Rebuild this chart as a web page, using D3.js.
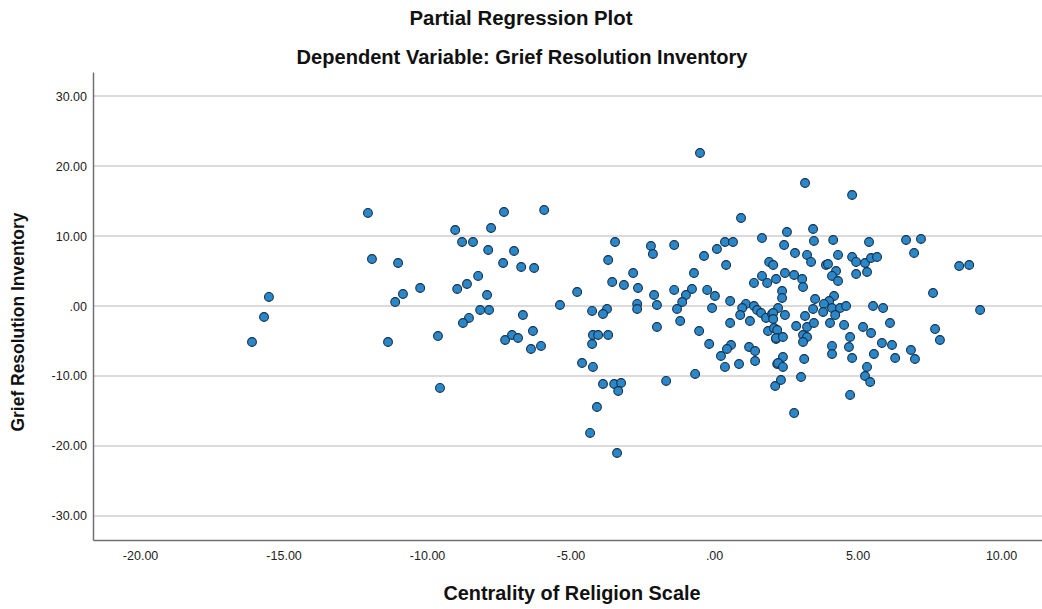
<!doctype html>
<html>
<head>
<meta charset="utf-8">
<title>Partial Regression Plot</title>
<script src="https://d3js.org/d3.v7.min.js"></script>
<style>
  body { margin: 0; background: #fff; }
  text { font-family: "Liberation Sans", Arial, sans-serif; }
</style>
</head>
<body>
<svg id="chart" width="1042" height="609"></svg>
<script>
// chart text
const title = "Partial Regression Plot";
const subtitle = "Dependent Variable: Grief Resolution Inventory";
const xLabel = "Centrality of Religion Scale";
const yLabel = "Grief Resolution Inventory";

// tick values
const xTicks = [-20, -15, -10, -5, 0, 5, 10];
const yTicks = [-30, -20, -10, 0, 10, 20, 30];

// residuals
const xs = [-16.10,-15.68,-15.51,-12.06,-11.92,-11.01,-10.24,-10.84,-11.11,-11.36,
  -7.32,-5.92,-9.02,-7.77,-8.78,-8.40,-7.87,-6.97,-7.35,-6.72,
  -6.27,-8.95,-8.61,-8.22,-7.91,-8.15,-7.84,-8.54,-8.75,-6.66,
  -6.31,-7.28,-7.04,-6.83,-6.38,-6.03,-5.37,-4.77,-9.62,-9.55,
  -3.45,-3.69,-3.55,-4.25,-3.73,-3.87,-4.22,-4.04,-3.69,-4.25,
  -4.60,-4.22,-3.87,-3.48,-3.24,-3.34,-4.08,-4.32,-3.38,-2.68,
  -2.68,-0.49,0.94,-2.20,-2.13,-1.39,0.10,0.38,0.66,1.67,
  -0.35,0.42,-2.82,-0.70,-3.14,-2.65,-1.39,-0.77,-0.98,-0.24,
  0.03,-2.09,-1.99,-1.11,-1.29,0.56,-0.07,1.11,0.98,0.91,
  1.39,1.50,1.64,1.81,2.02,1.25,0.56,-1.18,-1.99,-0.52,
  -0.17,0.59,0.45,0.24,0.38,0.87,1.22,1.43,1.43,1.88,
  2.09,2.16,2.20,-0.66,-1.67,2.13,1.92,1.39,1.67,1.85,
  2.54,3.45,3.48,4.15,5.40,2.44,2.82,3.24,3.38,4.32,
  3.90,3.97,4.81,4.95,5.26,5.47,5.68,4.25,4.11,4.32,
  4.95,5.33,2.06,2.47,2.16,2.79,3.07,3.10,2.37,2.37,
  3.52,4.18,4.01,3.83,4.11,4.39,4.60,5.54,5.89,3.45,
  3.80,2.23,2.06,2.47,2.06,3.17,4.22,6.13,2.86,3.24,
  3.48,4.04,4.53,5.19,5.47,2.20,2.16,2.40,3.10,3.24,
  3.10,4.74,4.70,4.81,4.11,4.11,5.85,6.20,5.57,6.31,
  2.40,2.23,2.40,3.14,3.03,5.33,5.26,5.44,2.33,4.74,
  2.79,3.17,4.81,6.69,7.21,6.97,8.54,8.89,7.63,9.27,
  7.70,7.87,6.86,7.00];
const ys = [-5.14,-1.57,1.29,13.29,6.71,6.14,2.57,1.71,0.57,-5.14,
  13.43,13.71,10.86,11.14,9.14,9.14,8.00,7.86,6.14,5.57,
  5.43,2.43,3.14,4.29,1.57,-0.57,-0.57,-1.71,-2.43,-1.29,
  -3.57,-4.86,-4.14,-4.57,-6.14,-5.71,0.14,2.00,-4.29,-11.71,
  9.14,6.57,3.43,-0.71,-0.43,-1.14,-4.14,-4.14,-4.14,-5.43,
  -8.14,-8.71,-11.14,-11.14,-11.00,-12.14,-14.43,-18.14,-21.00,0.29,
  -0.43,21.86,12.57,8.57,7.43,8.71,8.14,9.14,9.14,9.71,
  7.14,5.86,4.71,4.71,3.00,2.57,2.29,2.43,1.57,2.29,
  1.43,1.57,0.14,0.57,-0.43,0.71,-0.29,0.29,-0.29,-1.29,
  0.00,-0.57,-1.00,-1.71,-1.14,-2.14,-2.43,-2.14,-3.00,-3.57,
  -5.43,-5.57,-6.14,-7.14,-8.71,-8.29,-5.86,-6.43,-7.86,-3.57,
  -3.14,-4.71,-8.29,-9.71,-10.71,-11.43,6.29,3.29,4.29,3.29,
  10.57,11.00,9.29,9.43,9.14,8.71,7.57,7.29,6.29,7.29,
  5.86,6.00,7.00,6.29,6.14,6.86,7.00,5.00,4.29,3.57,
  4.57,4.86,5.86,4.71,3.86,4.43,3.86,2.71,2.14,1.14,
  1.00,1.43,0.71,0.29,-0.29,-0.29,0.00,0.00,-0.29,-0.43,
  -0.86,-0.29,-1.00,-1.29,-1.86,-1.43,-1.29,-2.43,-2.86,-3.00,
  -2.43,-2.43,-2.71,-3.00,-3.86,-3.43,-4.57,-4.43,-4.14,-4.43,
  -5.14,-4.43,-5.86,-7.43,-5.71,-6.86,-5.29,-5.57,-6.86,-7.43,
  -7.29,-8.14,-8.71,-7.57,-10.14,-8.71,-10.00,-10.86,-10.57,-12.71,
  -15.29,17.57,15.86,9.43,9.57,7.57,5.71,5.86,1.86,-0.57,
  -3.29,-4.86,-6.29,-7.57];

const svg = d3.select("#chart");
const margin = {top: 72, left: 93, bottom: 540, right: 1051};

const x = d3.scaleLinear()
  .domain([-21.64, 11.74])
  .range([margin.left, margin.right]);

const y = d3.scaleLinear()
  .domain([-33.43, 33.43])
  .range([margin.bottom, margin.top]);

const fmt = v => v === 0 ? ".00" : v.toFixed(2);

// horizontal grid lines
svg.append("g")
  .selectAll("line")
  .data(yTicks)
  .join("line")
    .attr("x1", margin.left)
    .attr("x2", margin.right)
    .attr("y1", d => y(d))
    .attr("y2", d => y(d))
    .attr("stroke", "#cfcfcf")
    .attr("stroke-width", 1.6);

// y axis
const yAxis = svg.append("g")
  .attr("transform", `translate(${margin.left},0)`)
  .call(d3.axisLeft(y).tickValues(yTicks).tickFormat(fmt).tickSize(0).tickPadding(6));
yAxis.select(".domain").attr("stroke", "#707070").attr("stroke-width", 1.5);
yAxis.selectAll("text").attr("font-size", "12.5px").attr("fill", "#222")
  .style("font-family", "'Liberation Sans', Arial, sans-serif");

// x axis
const xAxis = svg.append("g")
  .attr("transform", `translate(0,${margin.bottom})`)
  .call(d3.axisBottom(x).tickValues(xTicks).tickFormat(fmt).tickSize(0).tickPadding(11));
xAxis.select(".domain").attr("stroke", "#707070").attr("stroke-width", 1.5);
xAxis.selectAll("text").attr("font-size", "12.5px").attr("fill", "#222")
  .style("font-family", "'Liberation Sans', Arial, sans-serif");

// points
svg.append("g")
  .selectAll("circle")
  .data(xs.map((d, i) => [d, ys[i]]))
  .join("circle")
    .attr("cx", d => x(d[0]))
    .attr("cy", d => y(d[1]))
    .attr("r", 4.4)
    .attr("fill", "#2a87c8")
    .attr("stroke", "#17314c")
    .attr("stroke-width", 1.1);

// titles
svg.append("text")
  .attr("x", 521).attr("y", 25)
  .attr("text-anchor", "middle")
  .attr("font-size", "20px").attr("font-weight", "bold").attr("fill", "#111")
  .attr("textLength", 223).attr("lengthAdjust", "spacingAndGlyphs")
  .text(title);

svg.append("text")
  .attr("x", 522).attr("y", 64)
  .attr("text-anchor", "middle")
  .attr("font-size", "20px").attr("font-weight", "bold").attr("fill", "#111")
  .attr("textLength", 451).attr("lengthAdjust", "spacingAndGlyphs")
  .text(subtitle);

svg.append("text")
  .attr("x", 572).attr("y", 600)
  .attr("text-anchor", "middle")
  .attr("font-size", "19.5px").attr("font-weight", "bold").attr("fill", "#111")
  .attr("textLength", 257).attr("lengthAdjust", "spacingAndGlyphs")
  .text(xLabel);

svg.append("text")
  .attr("transform", "translate(24,322) rotate(-90)")
  .attr("text-anchor", "middle")
  .attr("font-size", "17.5px").attr("font-weight", "bold").attr("fill", "#111")
  .attr("textLength", 219).attr("lengthAdjust", "spacingAndGlyphs")
  .text(yLabel);
</script>
</body>
</html>
